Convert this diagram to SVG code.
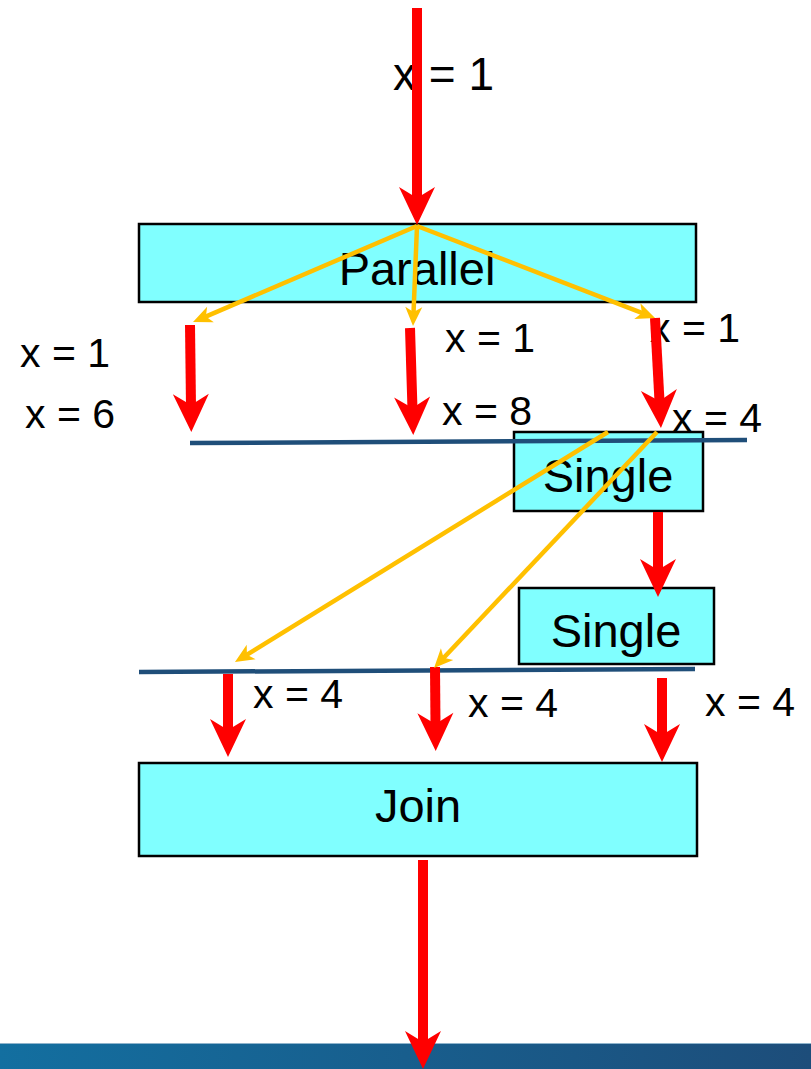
<svg xmlns="http://www.w3.org/2000/svg" width="811" height="1069" viewBox="0 0 811 1069">
<style>
.box{fill:#80FFFF;stroke:#000;stroke-width:2.5}
.nt{font-family:"Liberation Sans",Arial,sans-serif;font-size:47px;fill:#000;text-anchor:middle}
.lb{font-family:"Liberation Sans",Arial,sans-serif;font-size:41px;fill:#000}
.red{stroke:#FF0000;stroke-width:10;fill:none;marker-end:url(#rh)}
.yel{stroke:#FFC000;stroke-width:4.5;fill:none;marker-end:url(#yh)}
.bar{stroke:#1F4E79;stroke-width:4.5}
</style>
<defs>
<marker id="rh" markerUnits="userSpaceOnUse" viewBox="-40 -20 42 40" markerWidth="42" markerHeight="40" refX="-25" refY="0" orient="auto">
<path d="M0,0 L-38,-18 L-27,0 L-38,18 Z" fill="#FF0000"/>
</marker>
<marker id="yh" markerUnits="userSpaceOnUse" viewBox="-20 -10 22 20" markerWidth="22" markerHeight="20" refX="-10" refY="0" orient="auto">
<path d="M0,0 L-19,-8.5 L-14,0 L-19,8.5 Z" fill="#FFC000"/>
</marker>
<linearGradient id="band" x1="0" y1="0" x2="1" y2="0">
<stop offset="0" stop-color="#136FA0"/>
<stop offset="1" stop-color="#1D4D7A"/>
</linearGradient>
</defs>
<rect x="0" y="1043" width="811" height="26" fill="url(#band)"/>
<line x1="0" y1="1043.5" x2="811" y2="1043.5" stroke="#8FB4CC" stroke-width="1"/>

<g id="parallel"><rect class="box" x="139" y="224" width="557" height="78"/><text class="nt" x="417" y="285">Parallel</text></g>
<g id="single1"><rect class="box" x="514" y="432" width="189" height="79"/><text class="nt" x="608" y="492">Single</text></g>
<g id="single2"><rect class="box" x="519" y="588" width="195" height="76"/><text class="nt" x="616" y="647">Single</text></g>
<g id="join"><rect class="box" x="139" y="763" width="558" height="93"/><text class="nt" x="418" y="822">Join</text></g>

<g id="barriers">
<line class="bar" x1="190" y1="443" x2="747" y2="440"/>
<line class="bar" x1="139" y1="672" x2="695" y2="669"/>
</g>

<g id="labels">
<text class="lb" x="393" y="90" style="font-size:46px">x = 1</text>
<text class="lb" x="20" y="367">x = 1</text>
<text class="lb" x="25" y="428">x = 6</text>
<text class="lb" x="445" y="352">x = 1</text>
<text class="lb" x="442" y="425">x = 8</text>
<text class="lb" x="650" y="342">x = 1</text>
<text class="lb" x="672" y="432">x = 4</text>
<text class="lb" x="253" y="708">x = 4</text>
<text class="lb" x="468" y="717">x = 4</text>
<text class="lb" x="705" y="716">x = 4</text>
</g>

<g id="connectors">
<line class="red" x1="417" y1="8" x2="417" y2="200"/>
<line class="red" x1="190" y1="325" x2="191" y2="407"/>
<line class="red" x1="410" y1="328" x2="412.5" y2="410"/>
<line class="red" x1="655" y1="318" x2="659.6" y2="403"/>
<line class="red" x1="658" y1="512" x2="658" y2="572"/>
<line class="red" x1="228" y1="674" x2="228" y2="732"/>
<line class="red" x1="435" y1="667" x2="435.5" y2="726"/>
<line class="red" x1="662" y1="678" x2="662" y2="737"/>
<line class="red" x1="423" y1="860" x2="423" y2="1044"/>
<line class="yel" x1="417" y1="226" x2="202.2" y2="318.1"/>
<line class="yel" x1="417" y1="226" x2="413.4" y2="316"/>
<line class="yel" x1="417" y1="226" x2="645.7" y2="314.4"/>
<line class="yel" x1="608" y1="432" x2="243.5" y2="656.8"/>
<line class="yel" x1="657" y1="432" x2="440.9" y2="660.7"/>
</g>
</svg>
